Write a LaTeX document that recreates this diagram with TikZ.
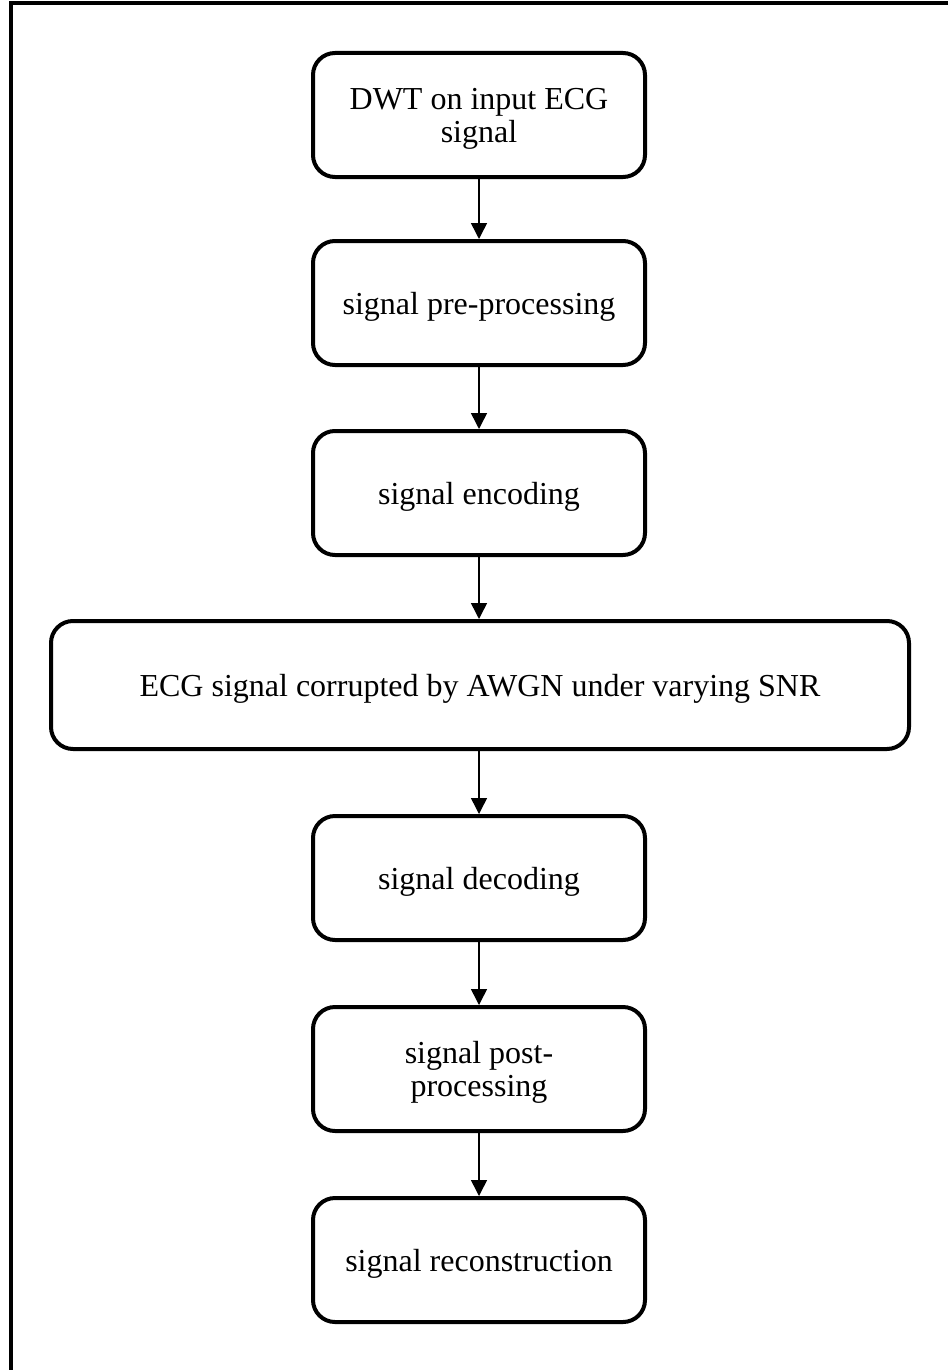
\documentclass[tikz,border=0pt]{standalone}
\usepackage{fontspec}
\setmainfont{Liberation Serif}
\usetikzlibrary{arrows.meta}
\begin{document}
\begin{tikzpicture}[x=1pt,y=-1pt,
  stepbox/.style={draw, line width=4pt, rounded corners=22pt,
    minimum width=332pt, minimum height=124pt, inner sep=0pt,
    text depth=0pt, align=center, font=\fontsize{32}{33}\selectfont},
  widebox/.style={stepbox, minimum width=858pt, minimum height=128pt},
  flow/.style={line width=1.5pt, -{Triangle[length=16pt,width=16pt]}}]
  \useasboundingbox (0,0) rectangle (948,1370);
  % page frame: top and left rules
  \draw[line width=4pt] (948,3) -- (11,3) -- (11,1370);

  % processing chain
  \node[stepbox] (dwt) at (479,115) {DWT on input ECG\\signal};
  \node[stepbox] (pre) at (479,303) {signal pre-processing};
  \node[stepbox] (enc) at (479,493) {signal encoding};
  \node[widebox] (awgn) at (480,685) {ECG signal corrupted by AWGN under varying SNR};
  \node[stepbox] (dec) at (479,878) {signal decoding};
  \node[stepbox] (post) at (479,1069) {signal post-\\processing};
  \node[stepbox] (rec) at (479,1260) {signal reconstruction};

  \draw[flow] (dwt) -- (pre);
  \draw[flow] (pre) -- (enc);
  \draw[flow] (enc) -- (awgn.north -| enc);
  \draw[flow] (awgn.south -| dec) -- (dec);
  \draw[flow] (dec) -- (post);
  \draw[flow] (post) -- (rec);
\end{tikzpicture}
\end{document}
